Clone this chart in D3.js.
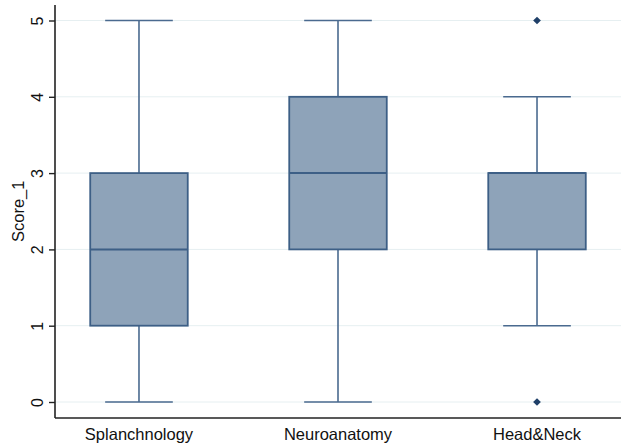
<!DOCTYPE html>
<html>
<head>
<meta charset="utf-8">
<script src="https://cdn.jsdelivr.net/npm/d3@7"></script>
<style>
  html, body { margin: 0; padding: 0; background: #fff; }
  svg { display: block; font-family: "Liberation Sans", Arial, sans-serif; }
</style>
</head>
<body>
<svg id="chart" width="621" height="448"></svg>
<script>
// Box-plot summaries of Score_1 by topic
const categories = ["Splanchnology", "Neuroanatomy", "Head&Neck"];
const whiskerLow  = [0, 0, 1];
const quartile1   = [1, 2, 2];
const medians     = [2, 3, 3];
const quartile3   = [3, 4, 3];
const whiskerHigh = [5, 5, 4];
const outliers    = [[], [], [0, 5]];
const yTicks      = [0, 1, 2, 3, 4, 5];
const yTitle      = "Score_1";

const W = 621, H = 448;
const plot = { left: 55, right: 621, top: 5, bottom: 418 };

const svg = d3.select("#chart");

const x = d3.scalePoint()
  .domain(categories)
  .range([plot.left, plot.right])
  .padding(0.422);

const y = d3.scaleLinear()
  .domain([0, 5])
  .range([402, 20.5]);

const step = x.step();
const boxW = step * 0.49;
const capW = step * 0.34;

const boxFill = "#8ea3b9";
const boxStroke = "#3d5f86";
const whiskerColor = "#4a6a8f";
const outlierColor = "#1f3f68";

// horizontal grid lines
svg.append("g")
  .selectAll("line")
  .data(yTicks)
  .join("line")
  .attr("x1", plot.left)
  .attr("x2", plot.right)
  .attr("y1", d => y(d))
  .attr("y2", d => y(d))
  .attr("stroke", "#e6eff1")
  .attr("stroke-width", 1);

const rows = categories.map((c, i) => ({
  c, lo: whiskerLow[i], q1: quartile1[i], med: medians[i],
  q3: quartile3[i], hi: whiskerHigh[i], out: outliers[i]
}));

const g = svg.append("g").selectAll("g").data(rows).join("g");

// whisker stems
g.append("line")
  .attr("x1", d => x(d.c)).attr("x2", d => x(d.c))
  .attr("y1", d => y(d.lo)).attr("y2", d => y(d.q1))
  .attr("stroke", whiskerColor).attr("stroke-width", 1.6);
g.append("line")
  .attr("x1", d => x(d.c)).attr("x2", d => x(d.c))
  .attr("y1", d => y(d.q3)).attr("y2", d => y(d.hi))
  .attr("stroke", whiskerColor).attr("stroke-width", 1.6);

// whisker caps
g.append("line")
  .attr("x1", d => x(d.c) - capW / 2).attr("x2", d => x(d.c) + capW / 2)
  .attr("y1", d => y(d.lo)).attr("y2", d => y(d.lo))
  .attr("stroke", whiskerColor).attr("stroke-width", 1.6);
g.append("line")
  .attr("x1", d => x(d.c) - capW / 2).attr("x2", d => x(d.c) + capW / 2)
  .attr("y1", d => y(d.hi)).attr("y2", d => y(d.hi))
  .attr("stroke", whiskerColor).attr("stroke-width", 1.6);

// boxes
g.append("rect")
  .attr("x", d => x(d.c) - boxW / 2)
  .attr("width", boxW)
  .attr("y", d => y(d.q3))
  .attr("height", d => y(d.q1) - y(d.q3))
  .attr("fill", boxFill)
  .attr("stroke", boxStroke)
  .attr("stroke-width", 1.8);

// medians
g.append("line")
  .attr("x1", d => x(d.c) - boxW / 2).attr("x2", d => x(d.c) + boxW / 2)
  .attr("y1", d => y(d.med)).attr("y2", d => y(d.med))
  .attr("stroke", boxStroke).attr("stroke-width", 2);

// outside values
const diamond = d3.symbol().type(d3.symbolDiamond2).size(38);
g.each(function(d) {
  d3.select(this).selectAll("path.out")
    .data(d.out)
    .join("path")
    .attr("class", "out")
    .attr("d", diamond)
    .attr("transform", v => `translate(${x(d.c)},${y(v)})`)
    .attr("fill", outlierColor);
});

// y axis
const yAxis = svg.append("g")
  .attr("transform", `translate(${plot.left},0)`)
  .call(d3.axisLeft(y).tickValues(yTicks).tickFormat(d3.format("d"))
    .tickSize(6).tickSizeOuter(0).tickPadding(0));
yAxis.select(".domain").remove();
yAxis.selectAll(".tick line").attr("stroke", "#222").attr("stroke-width", 1.4);
yAxis.selectAll(".tick text")
  .attr("x", null).attr("dy", null)
  .attr("transform", "translate(-12,0) rotate(-90)")
  .attr("text-anchor", "middle")
  .attr("dominant-baseline", "auto")
  .attr("font-size", 16)
  .attr("fill", "#111")
  .attr("font-family", "Liberation Sans, Arial, sans-serif");

// axis lines
svg.append("line")
  .attr("x1", plot.left).attr("x2", plot.left)
  .attr("y1", plot.top).attr("y2", plot.bottom)
  .attr("stroke", "#222").attr("stroke-width", 1.6);
svg.append("line")
  .attr("x1", plot.left).attr("x2", plot.right)
  .attr("y1", plot.bottom).attr("y2", plot.bottom)
  .attr("stroke", "#222").attr("stroke-width", 1.6);

// category labels
svg.append("g")
  .selectAll("text")
  .data(categories)
  .join("text")
  .attr("x", d => x(d))
  .attr("y", 440)
  .attr("text-anchor", "middle")
  .attr("font-size", 16.5)
  .attr("fill", "#111")
  .text(d => d);

// y title
svg.append("text")
  .attr("transform", `translate(24,${(y(0) + y(5)) / 2}) rotate(-90)`)
  .attr("text-anchor", "middle")
  .attr("font-size", 16.5)
  .attr("fill", "#111")
  .text(yTitle);
</script>
</body>
</html>
